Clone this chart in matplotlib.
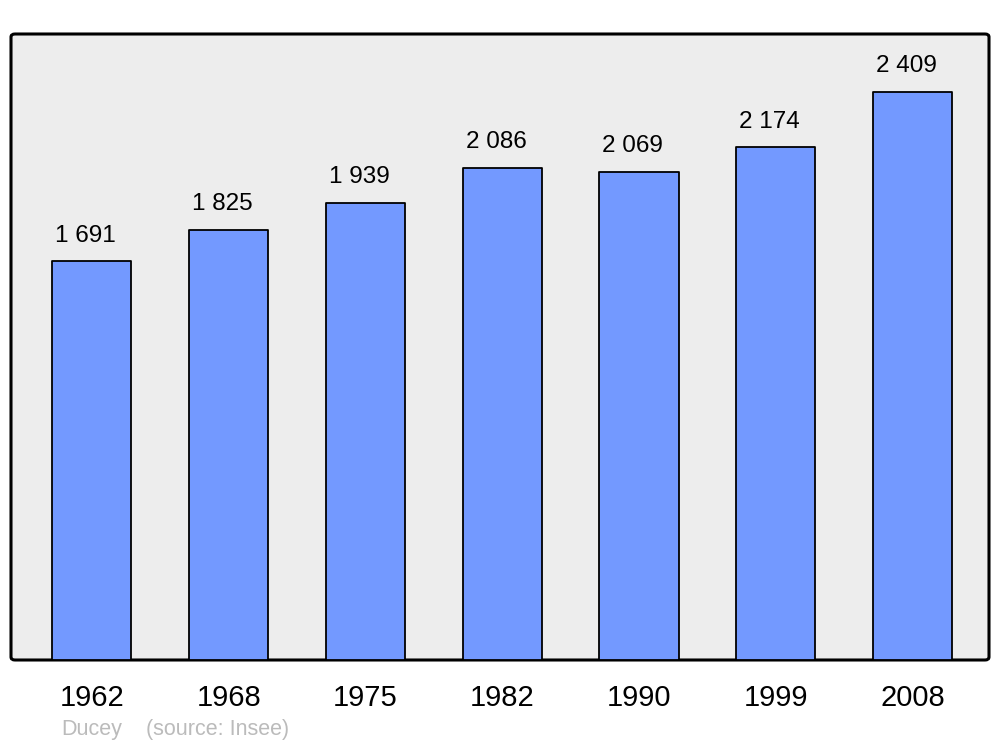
import matplotlib
matplotlib.use("Agg")
import matplotlib.pyplot as plt
from matplotlib.patches import FancyBboxPatch

plt.rcParams['font.family'] = ['Liberation Sans', 'DejaVu Sans']

years = ['1962', '1968', '1975', '1982', '1990', '1999', '2008']
population = [1691, 1825, 1939, 2086, 2069, 2174, 2409]
value_labels = ['1 691', '1 825', '1 939', '2 086', '2 069', '2 174', '2 409']

W, H = 1000, 747
fig = plt.figure(figsize=(W / 100, H / 100), dpi=100)

# gray panel with rounded corners, behind the axes
left, right, top, bottom = 11, 989, 34, 660
panel = FancyBboxPatch((left / W, 1 - bottom / H), (right - left) / W, (bottom - top) / H,
                       boxstyle="round,pad=0,rounding_size=0.004",
                       transform=fig.transFigure, facecolor='#ededed',
                       edgecolor='black', linewidth=2.2, zorder=-5)
fig.patches.append(panel)

ax = fig.add_axes([left / W, 1 - bottom / H, (right - left) / W, (bottom - top) / H])
ax.set_facecolor('none')
ax.set_zorder(1)
for s in ax.spines.values():
    s.set_visible(False)

x = list(range(len(years)))
bars = ax.bar(x, population, width=0.578, color='#7399ff', edgecolor='black',
              linewidth=1.3, zorder=2)
for b in bars:
    b.set_joinstyle('round')

ax.set_xlim(-0.592, 6.559)
ax.set_ylim(0, 2655)
ax.set_yticks([])
ax.set_xticks(x)
ax.set_xticklabels(years, fontsize=21)
ax.tick_params(axis='x', length=0, pad=17)

# value labels sit a little left of the bar centre, as in the original
for xi, v, lab in zip(x, population, value_labels):
    ax.annotate(lab, (xi, v), xytext=(-4.5, 18.5), textcoords='offset points',
                ha='center', va='center', fontsize=17.5, color='black')

fig.text(61 / W, 1 - 730 / H, 'Ducey', color='#bbbbbb', fontsize=15.5, va='center')
fig.text(146 / W, 1 - 730 / H, '(source: Insee)', color='#bbbbbb', fontsize=15.5, va='center')

fig.savefig('out.png', dpi=100)
